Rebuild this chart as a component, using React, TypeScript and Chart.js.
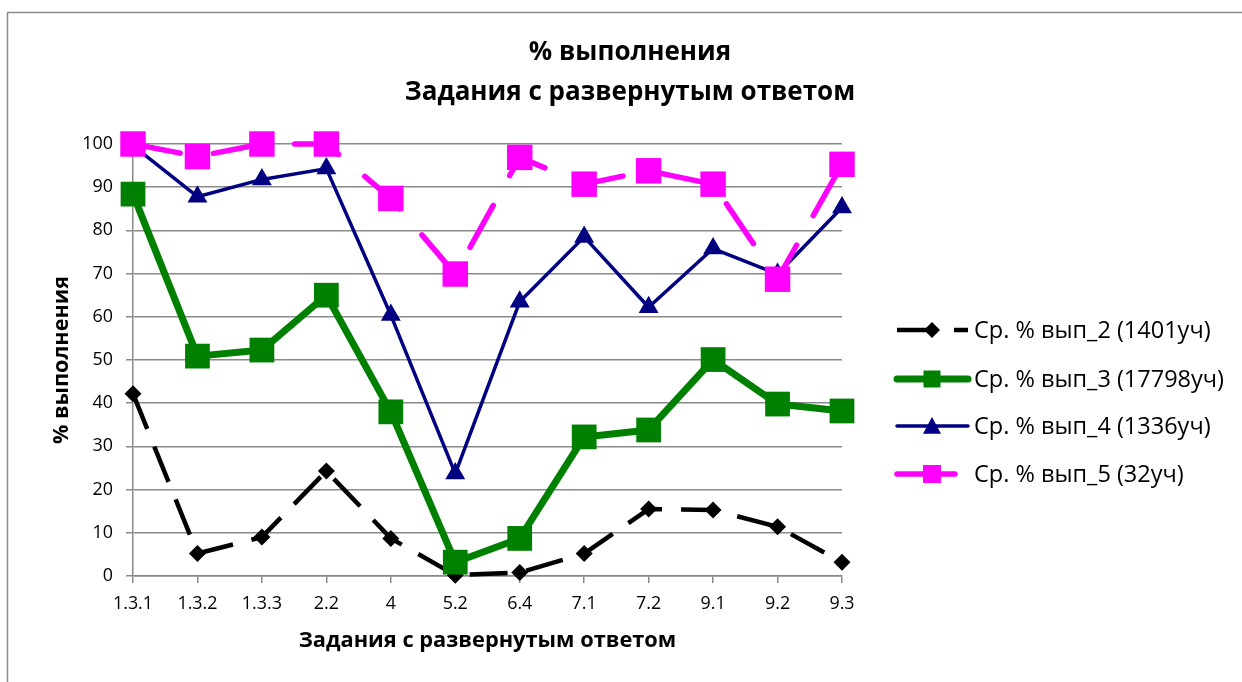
import React, { useEffect, useRef } from 'react';
import { Chart, registerables } from 'chart.js';

Chart.register(...registerables);

const categories = ['1.3.1', '1.3.2', '1.3.3', '2.2', '4', '5.2', '6.4', '7.1', '7.2', '9.1', '9.2', '9.3'];
const series2 = [42.2, 5.2, 9.0, 24.3, 8.7, 0.2, 0.8, 5.2, 15.5, 15.3, 11.4, 3.2];
const series3 = [88.4, 50.9, 52.3, 65.0, 38.0, 3.2, 8.7, 32.2, 33.8, 50.1, 39.8, 38.2];
const series4 = [99.6, 87.8, 91.8, 94.3, 60.4, 23.7, 63.5, 78.5, 62.2, 75.8, 69.9, 85.3];
const series5 = [100, 97.1, 100, 100, 87.4, 69.9, 96.9, 90.7, 93.8, 90.7, 68.7, 95.3];
const seriesLabels = ['Ср. % вып_2 (1401уч)', 'Ср. % вып_3 (17798уч)', 'Ср. % вып_4 (1336уч)', 'Ср. % вып_5 (32уч)'];
const titleLines = ['% выполнения', 'Задания с развернутым ответом'];
const xTitle = 'Задания с развернутым ответом';
const yTitle = '% выполнения';
const yMin = 0;
const yMax = 100;
const yStep = 10;

const FAMILY = "'Open Sans', 'Noto Sans', sans-serif";
const GRID = '#8a8a8a';

function fitSize(text: string, weight: string, target: number): number {
  const c = document.createElement('canvas').getContext('2d')!;
  c.font = `${weight} 100px ${FAMILY}`;
  const w = c.measureText(text).width;
  return Math.round((1000 * target) / w) / 10;
}

type Marker = { shape: 'diamond' | 'square' | 'triangle'; size: number };

function drawMarker(ctx: CanvasRenderingContext2D, m: Marker, x: number, y: number, color: string) {
  ctx.save();
  ctx.fillStyle = color;
  ctx.setLineDash([]);
  ctx.beginPath();
  const h = m.size / 2;
  if (m.shape === 'diamond') {
    ctx.moveTo(x, y - h);
    ctx.lineTo(x + h, y);
    ctx.lineTo(x, y + h);
    ctx.lineTo(x - h, y);
  } else if (m.shape === 'square') {
    ctx.rect(x - h, y - h, m.size, m.size);
  } else {
    ctx.moveTo(x, y - h);
    ctx.lineTo(x + h, y + h * 0.85);
    ctx.lineTo(x - h, y + h * 0.85);
  }
  ctx.closePath();
  ctx.fill();
  ctx.restore();
}

const legendMarkers: Marker[] = [
  { shape: 'diamond', size: 16 },
  { shape: 'square', size: 17 },
  { shape: 'triangle', size: 18 },
  { shape: 'square', size: 18 },
];

export default function App() {
  const ref = useRef<HTMLCanvasElement>(null);

  useEffect(() => {
    if (!ref.current) return;
    const titleSize = fitSize(titleLines[1], 'bold', 451);
    const xTitleSize = fitSize(xTitle, 'bold', 378);
    const yTitleSize = fitSize(yTitle, 'bold', 168);
    const legendSize = fitSize(seriesLabels[0], 'normal', 237);
    const tickSize = fitSize('100', 'normal', 30.7);

    const framePlugin = {
      id: 'frame',
      beforeDraw(chart: any) {
        const ctx = chart.ctx as CanvasRenderingContext2D;
        ctx.save();
        ctx.fillStyle = '#ffffff';
        ctx.fillRect(0, 0, chart.width, chart.height);
        ctx.strokeStyle = '#8c8c8c';
        ctx.lineWidth = 1.5;
        ctx.strokeRect(7.5, 12.5, chart.width + 20, chart.height + 20);
        ctx.restore();
      },
    };

    const legendPlugin = {
      id: 'excelLegend',
      afterDraw(chart: any) {
        const ctx = chart.ctx as CanvasRenderingContext2D;
        const x0 = 897;
        const x1 = 968;
        const xm = 932;
        const textX = 974;
        const rowY = [330, 379, 426, 474];
        chart.data.datasets.forEach((ds: any, i: number) => {
          const y = rowY[i];
          ctx.save();
          ctx.strokeStyle = ds.borderColor;
          ctx.lineWidth = ds.borderWidth;
          ctx.lineCap = ds.legendCap || 'butt';
          ctx.setLineDash(ds.legendDash || ds.borderDash || []);
          ctx.beginPath();
          ctx.moveTo(x0, y);
          ctx.lineTo(x1, y);
          ctx.stroke();
          ctx.restore();
          drawMarker(ctx, legendMarkers[i], xm, y, ds.backgroundColor);
          ctx.save();
          ctx.fillStyle = '#000000';
          ctx.font = `normal ${legendSize}px ${FAMILY}`;
          ctx.textAlign = 'left';
          ctx.textBaseline = 'middle';
          ctx.fillText(ds.label, textX, y + 1);
          ctx.restore();
        });
      },
    };

    const chart = new Chart(ref.current, {
      type: 'line',
      data: {
        labels: categories,
        datasets: [
          {
            label: seriesLabels[0],
            data: series2,
            borderColor: '#000000',
            backgroundColor: '#000000',
            borderWidth: 4.5,
            borderDash: [38, 19],
            borderJoinStyle: 'round',
            pointStyle: 'rectRot',
            pointRadius: 8.5,
            pointHoverRadius: 8.5,
            pointBorderWidth: 0,
            pointBackgroundColor: '#000000',
            clip: false,
            order: 4,
            tension: 0,
          } as any,
          {
            label: seriesLabels[1],
            data: series3,
            borderColor: '#008000',
            backgroundColor: '#008000',
            borderWidth: 7,
            borderJoinStyle: 'round',
            legendCap: 'round',
            pointStyle: 'rect',
            pointRadius: 17.5,
            pointHoverRadius: 17.5,
            pointBorderWidth: 0,
            pointBackgroundColor: '#008000',
            clip: false,
            order: 3,
            tension: 0,
          } as any,
          {
            label: seriesLabels[2],
            data: series4,
            borderColor: '#000080',
            backgroundColor: '#000080',
            borderWidth: 3.5,
            borderJoinStyle: 'round',
            legendCap: 'round',
            pointStyle: 'triangle',
            pointRadius: 11.5,
            pointHoverRadius: 11.5,
            pointBorderWidth: 0,
            pointBackgroundColor: '#000080',
            clip: false,
            order: 2,
            tension: 0,
          } as any,
          {
            label: seriesLabels[3],
            data: series5,
            borderColor: '#ff00ff',
            backgroundColor: '#ff00ff',
            borderWidth: 5.5,
            borderDash: [48, 34],
            legendDash: [58, 30],
            borderCapStyle: 'round',
            borderJoinStyle: 'round',
            legendCap: 'round',
            pointStyle: 'rect',
            pointRadius: 18,
            pointHoverRadius: 18,
            pointBorderWidth: 0,
            pointBackgroundColor: '#ff00ff',
            clip: false,
            order: 1,
            tension: 0,
          } as any,
        ],
      },
      options: {
        animation: false,
        responsive: false,
        maintainAspectRatio: false,
        devicePixelRatio: 1,
        events: [],
        layout: { padding: { left: 18, right: 0, top: 0, bottom: 0 } },
        plugins: {
          legend: { display: false },
          tooltip: { enabled: false },
          title: {
            display: true,
            text: titleLines,
            color: '#000000',
            font: { family: FAMILY, size: titleSize, weight: 'bold', lineHeight: '40px' as any },
            padding: { top: 32.5, bottom: 31.5 },
          },
        },
        scales: {
          x: {
            type: 'category',
            offset: false,
            grid: { drawOnChartArea: false, drawTicks: true, tickLength: 7, color: GRID, lineWidth: 1.5 },
            border: { display: true, color: GRID, width: 1.5 },
            ticks: {
              autoSkip: false,
              maxRotation: 0,
              minRotation: 0,
              padding: 10,
              color: '#000000',
              font: { family: FAMILY, size: tickSize },
            },
            title: {
              display: true,
              text: xTitle,
              color: '#000000',
              font: { family: FAMILY, size: xTitleSize, weight: 'bold', lineHeight: 1.2 },
              padding: { top: 0, bottom: 41 - 0.6 * xTitleSize },
            },
            afterFit(s: any) {
              s.height = 106;
            },
          },
          y: {
            type: 'linear',
            position: 'left',
            min: yMin,
            max: yMax,
            grid: { color: GRID, lineWidth: 1.5, tickLength: 7, drawTicks: true },
            border: { display: true, color: GRID, width: 1.5 },
            ticks: {
              stepSize: yStep,
              padding: 13,
              color: '#000000',
              font: { family: FAMILY, size: tickSize },
            },
            title: {
              display: true,
              text: yTitle,
              color: '#000000',
              font: { family: FAMILY, size: yTitleSize, weight: 'bold', lineHeight: 1.2 },
              padding: { top: 44 - 0.6 * yTitleSize, bottom: 0 },
            },
            afterFit(s: any) {
              s.width = 115;
            },
          },
          yRight: {
            type: 'linear',
            position: 'right',
            display: true,
            grid: { display: false, drawTicks: false },
            border: { display: false },
            ticks: { display: false },
            afterFit(s: any) {
              s.width = 400;
            },
          },
        },
      },
      plugins: [framePlugin, legendPlugin],
    } as any);

    return () => chart.destroy();
  }, []);

  return (
    <div style={{ position: 'absolute', left: 0, top: 0, width: 1242, height: 682 }}>
      <canvas ref={ref} width={1242} height={682} style={{ display: 'block', width: 1242, height: 682 }} />
    </div>
  );
}
